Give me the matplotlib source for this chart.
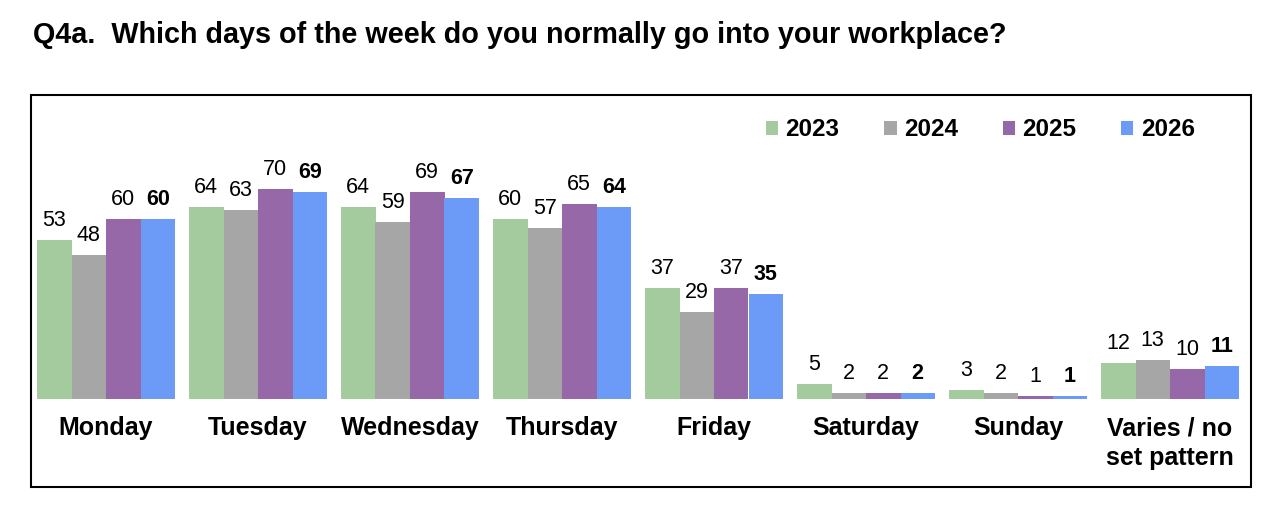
import matplotlib
matplotlib.use("Agg")
import matplotlib.pyplot as plt
from matplotlib.patches import Patch, Rectangle
import numpy as np

plt.rcParams['font.family'] = ['Liberation Sans', 'DejaVu Sans']

title = "Q4a.  Which days of the week do you normally go into your workplace?"
categories = ["Monday", "Tuesday", "Wednesday", "Thursday", "Friday",
              "Saturday", "Sunday", "Varies / no\nset pattern"]
years = ["2023", "2024", "2025", "2026"]
v2023 = [53, 64, 64, 60, 37, 5, 3, 12]
v2024 = [48, 63, 59, 57, 29, 2, 2, 13]
v2025 = [60, 70, 69, 65, 37, 2, 1, 10]
v2026 = [60, 69, 67, 64, 35, 2, 1, 11]
series = [v2023, v2024, v2025, v2026]
colors = ["#A4CB9D", "#A6A6A6", "#9668A8", "#6C9BF7"]

W, H = 1270, 507
fig = plt.figure(figsize=(W / 100, H / 100), dpi=100)

# axes area in pixels
ax_left, ax_right, ax_top, ax_bottom = 30, 1250, 95, 399
ax = fig.add_axes([ax_left / W, (H - ax_bottom) / H,
                   (ax_right - ax_left) / W, (ax_bottom - ax_top) / H])
px_per_unit = 3.0
ax.set_ylim(0, (ax_bottom - ax_top) / px_per_unit)
pitch = 152.0
c0 = 106.0
ax.set_xlim((ax_left - c0) / pitch, (ax_right - c0) / pitch)
ax.axis('off')

x = np.arange(len(categories))
bw = 34.5 / pitch
for j, (vals, col) in enumerate(zip(series, colors)):
    xs = x + (j - 1.5) * bw
    ax.bar(xs, vals, width=bw, color=col, edgecolor='none', label=years[j])
    for xi, v in zip(xs, vals):
        ax.annotate(str(v), (xi, v), xytext=(0, 9.8), textcoords='offset points',
                    ha='center', va='baseline', fontsize=15.5,
                    fontweight='bold' if j == 3 else 'normal', color='black')

# category labels
for xi, cat in zip(x, categories):
    ax.text(xi, -17 / px_per_unit, cat, ha='center', va='top', fontsize=18,
            fontweight='bold', linespacing=1.3, clip_on=False,
            transform=ax.transData)

# frame
fig.patches.append(Rectangle((30.5 / W, (H - 486.5) / H), (1250.5 - 30.5) / W,
                             (486.5 - 95) / H, transform=fig.transFigure,
                             fill=False, edgecolor='black', linewidth=1.5))

# title
fig.text(33 / W, 1 - 43 / H, title, ha='left', va='baseline', fontsize=20.7,
         fontweight='bold')

# legend
handles = [Patch(facecolor=c, edgecolor='none') for c in colors]
leg = fig.legend(handles, years, loc='center left',
                 bbox_to_anchor=(766 / W, 1 - 130 / H), ncol=4, frameon=False,
                 prop={'weight': 'bold', 'size': 17.5},
                 handlelength=0.5, handleheight=0.5, handletextpad=0.3,
                 columnspacing=1.85, borderpad=0, borderaxespad=0)

fig.savefig("out.png", dpi=100)
